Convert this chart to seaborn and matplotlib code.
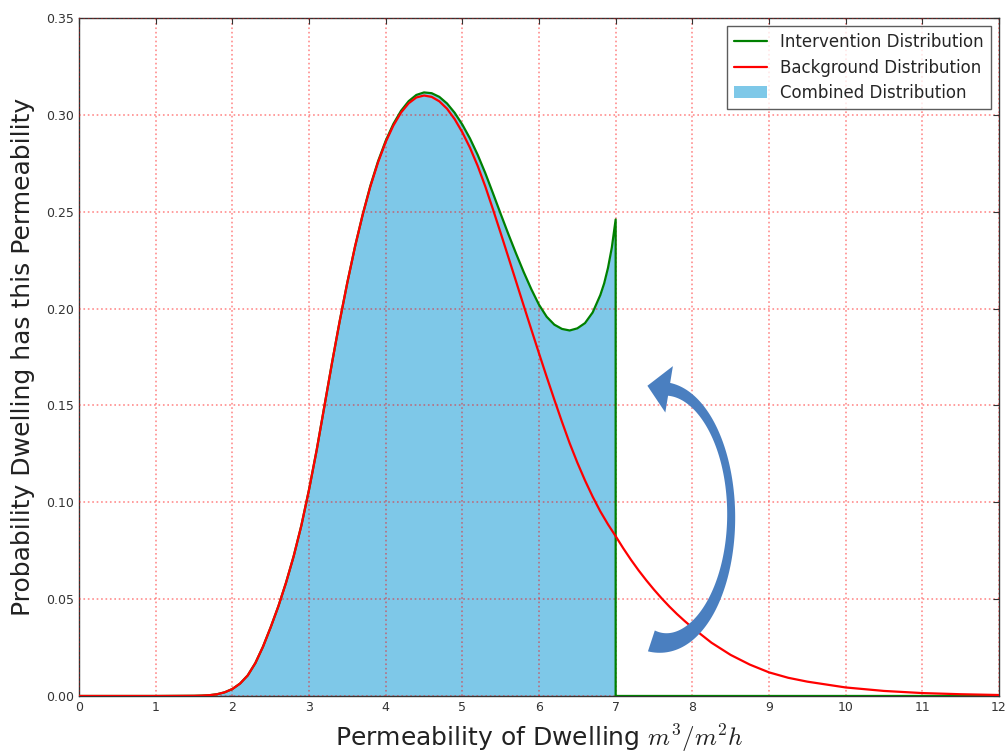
import numpy as np
import pandas as pd
import seaborn as sns
import matplotlib.pyplot as plt
from matplotlib.patches import Polygon
from matplotlib.transforms import IdentityTransform

# Background distribution (red curve)
bg_x = [0.0, 0.5, 1.0, 1.5, 1.6, 1.7, 1.8, 1.9, 2.0, 2.1, 2.2, 2.3, 2.4,
        2.5, 2.6, 2.7, 2.8, 2.9, 3.0, 3.1, 3.2, 3.3, 3.4, 3.5, 3.6, 3.7,
        3.8, 3.9, 4.0, 4.1, 4.2, 4.3, 4.4, 4.5, 4.6, 4.7, 4.8, 4.9, 5.0,
        5.1, 5.2, 5.3, 5.4, 5.5, 5.6, 5.7, 5.8, 5.9, 6.0, 6.1, 6.2, 6.3,
        6.4, 6.5, 6.6, 6.7, 6.8, 6.9, 7.0, 7.1, 7.2, 7.3, 7.4, 7.5, 7.6,
        7.7, 7.8, 7.9, 8.0, 8.25, 8.5, 8.75, 9.0, 9.25, 9.5, 10.0, 10.5,
        11.0, 11.5, 12.0]
bg_y = [0.0, 0.0, 0.0, 0.0001, 0.0002, 0.0004, 0.0009, 0.0019, 0.0036,
        0.0064, 0.0106, 0.0170, 0.0255, 0.0355, 0.0463, 0.0585, 0.0722,
        0.0880, 0.1065, 0.1270, 0.1495, 0.1720, 0.1935, 0.2135, 0.2320,
        0.2485, 0.2630, 0.2755, 0.2860, 0.2945, 0.3012, 0.3060, 0.3090,
        0.3100, 0.3093, 0.3070, 0.3032, 0.2978, 0.2910, 0.2830, 0.2737,
        0.2630, 0.2512, 0.2390, 0.2266, 0.2141, 0.2016, 0.1892, 0.1769,
        0.1648, 0.1530, 0.1415, 0.1305, 0.1205, 0.1113, 0.1029, 0.0953,
        0.0886, 0.0825, 0.0762, 0.0703, 0.0648, 0.0597, 0.0549, 0.0504,
        0.0462, 0.0423, 0.0387, 0.0353, 0.0275, 0.0212, 0.0162, 0.0122,
        0.0094, 0.0074, 0.0044, 0.0026, 0.0015, 0.0009, 0.0005]

# Intervention distribution (green curve) up to the cut-off at x = 7
int_x = [0.0, 0.5, 1.0, 1.5, 1.6, 1.7, 1.8, 1.9, 2.0, 2.1, 2.2, 2.3, 2.4,
         2.5, 2.6, 2.7, 2.8, 2.9, 3.0, 3.1, 3.2, 3.3, 3.4, 3.5, 3.6, 3.7,
         3.8, 3.9, 4.0, 4.1, 4.2, 4.3, 4.4, 4.5, 4.6, 4.7, 4.8, 4.9, 5.0,
         5.1, 5.2, 5.3, 5.4, 5.5, 5.6, 5.7, 5.8, 5.9, 6.0, 6.1, 6.2, 6.3,
         6.4, 6.5, 6.6, 6.7, 6.8, 6.85, 6.9, 6.95, 7.0]
int_y = [0.0, 0.0, 0.0, 0.0001, 0.0002, 0.0004, 0.0009, 0.0019, 0.0036,
         0.0064, 0.0106, 0.0170, 0.0255, 0.0355, 0.0463, 0.0585, 0.0722,
         0.0880, 0.1065, 0.1270, 0.1495, 0.1720, 0.1935, 0.2135, 0.2320,
         0.2485, 0.2634, 0.2760, 0.2866, 0.2953, 0.3021, 0.3071, 0.3103,
         0.3116, 0.3112, 0.3093, 0.3059, 0.3011, 0.2950, 0.2878, 0.2794,
         0.2699, 0.2595, 0.2489, 0.2385, 0.2285, 0.2189, 0.2100, 0.2020,
         0.1958, 0.1917, 0.1895, 0.1887, 0.1898, 0.1925, 0.1980, 0.2070,
         0.2130, 0.2210, 0.2315, 0.2460]

# beyond the cut-off the intervention distribution is zero
tail_x = [7.0, 12.0]
tail_y = [0.0, 0.0]

x_ticks = list(range(0, 13))
y_ticks = [0.00, 0.05, 0.10, 0.15, 0.20, 0.25, 0.30, 0.35]


def add_curved_arrow(ax, center, a_px, b_px, t0, t1, head_w, head_len, color):
    """Hand-drawn style curved arrow (tapered band on an ellipse + head), in pixels."""
    cx, cy = ax.transData.transform(center)
    ts = np.radians(np.linspace(t0, t1, 120))
    px = cx + a_px * np.cos(ts)
    py = cy + b_px * np.sin(ts)
    tx, ty = -a_px * np.sin(ts), b_px * np.cos(ts)
    n = np.hypot(tx, ty)
    tx, ty = tx / n, ty / n
    nx, ny = ty, -tx
    deg = np.degrees(ts)
    half = (8 - 0.0325 * deg + 0.001075 * deg ** 2) / 2
    outer = np.c_[px + nx * half, py + ny * half]
    inner = np.c_[px - nx * half, py - ny * half]
    ex, ey = px[-1], py[-1]
    head = [(ex + nx[-1] * head_w / 2, ey + ny[-1] * head_w / 2),
            (ex + tx[-1] * head_len, ey + ty[-1] * head_len),
            (ex - nx[-1] * head_w / 2, ey - ny[-1] * head_w / 2)]
    verts = np.vstack([outer, head, inner[::-1]])
    ax.add_patch(Polygon(verts, closed=True, transform=IdentityTransform(),
                         facecolor=color, edgecolor='none', zorder=5))


def main():
    sns.set_style("white")
    plt.rcParams['font.family'] = ['DejaVu Sans']
    plt.rcParams['mathtext.fontset'] = 'cm'

    fig = plt.figure(figsize=(10.07, 7.52), dpi=100)
    ax = fig.add_axes([0.0785, 0.0745, 0.9135, 0.9015])

    ax.fill_between(int_x, int_y, 0, color='#7ec8e8', linewidth=0,
                    label='Combined Distribution', zorder=1)

    green = pd.DataFrame({'x': int_x + tail_x, 'y': int_y + tail_y})
    red = pd.DataFrame({'x': bg_x, 'y': bg_y})
    sns.lineplot(data=green, x='x', y='y', color='green', linewidth=1.6,
                 sort=False, estimator=None, ax=ax, zorder=3,
                 label='Intervention Distribution')
    sns.lineplot(data=red, x='x', y='y', color='red', linewidth=1.6,
                 sort=False, estimator=None, ax=ax, zorder=4,
                 label='Background Distribution')

    ax.set_xlim(0, 12)
    ax.set_ylim(0, 0.35)
    ax.set_xticks(x_ticks)
    ax.set_yticks(y_ticks)
    ax.set_yticklabels([f"{v:.2f}" for v in y_ticks])
    ax.grid(True, color='red', alpha=0.45, linestyle=':', linewidth=1.2)
    ax.set_axisbelow(False)
    ax.tick_params(direction='in', top=True, right=True, length=4,
                   labelsize=9, colors='#333333')
    for s in ax.spines.values():
        s.set_color('#333333')
        s.set_linewidth(1.0)

    ax.set_xlabel('Permeability of Dwelling $m^3/m^2h$', fontsize=18,
                  color='#222222', labelpad=6)
    ax.set_ylabel('Probability Dwelling has this Permeability', fontsize=18,
                  color='#222222', labelpad=8)

    # arrow: from the cut-off tail back into the distribution
    add_curved_arrow(ax, (7.62, 0.093), 68, 127, -100, 85,
                     head_w=47, head_len=22, color='#4a7fc0')

    handles, labels = ax.get_legend_handles_labels()
    order = [labels.index('Intervention Distribution'),
             labels.index('Background Distribution'),
             labels.index('Combined Distribution')]
    leg = ax.legend([handles[i] for i in order], [labels[i] for i in order],
                    loc='upper right', fontsize=12, frameon=True, fancybox=False,
                    edgecolor='#333333', borderaxespad=0.5, labelspacing=0.45)
    leg.get_frame().set_linewidth(1.0)

    fig.savefig('out.png', dpi=100)


if __name__ == "__main__":
    main()
